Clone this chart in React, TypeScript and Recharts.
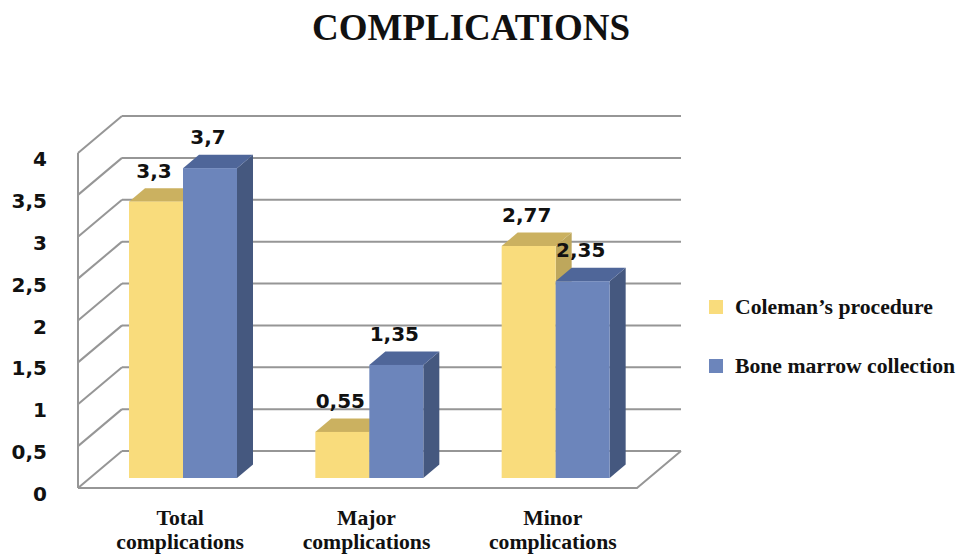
import React from 'react';
import { BarChart, Bar, XAxis, YAxis, CartesianGrid, LabelList } from 'recharts';

// chart data
const categories = ['Total complications', 'Major complications', 'Minor complications'];
const colemanValues = [3.3, 0.55, 2.77];
const boneMarrowValues = [3.7, 1.35, 2.35];
const yTicks = [0, 0.5, 1, 1.5, 2, 2.5, 3, 3.5, 4];
const seriesNames = ['Coleman’s procedure', 'Bone marrow collection'];

const data = categories.map((name, i) => ({
  name,
  coleman: colemanValues[i],
  bone: boneMarrowValues[i],
}));

const WIDTH = 962;
const HEIGHT = 555;
const PLOT_LEFT = 90;
const PLOT_RIGHT = 649;
const PLOT_TOP = 143;
const PLOT_BOTTOM = 478;
const X_AXIS_HEIGHT = 60;

// perspective offsets, measured from the plane the bars stand on
const BACK = { dx: 32, dy: -27 };
const FRONT = { dx: -12, dy: 10 };
const DEPTH = { dx: 16, dy: -13.5 };

const GRID = '#969696';
const SERIF = "'Liberation Serif', 'Times New Roman', serif";
const SANS = "'DejaVu Sans', sans-serif";

const FACES = {
  coleman: { front: '#f9dc7c', top: '#cbb160', side: '#bea75c' },
  bone: { front: '#6c85bb', top: '#4f6699', side: '#45587f' },
};

const fmt = (v: number) => String(v).replace('.', ',');

const makeBar = (faces: { front: string; top: string; side: string }) => (props: any) => {
  const { x, y, width, height } = props;
  if (width == null || height == null) return null;
  const { dx, dy } = DEPTH;
  const top = `${x},${y} ${x + dx},${y + dy} ${x + width + dx},${y + dy} ${x + width},${y}`;
  const side = `${x + width},${y} ${x + width + dx},${y + dy} ${x + width + dx},${y + height + dy} ${x + width},${y + height}`;
  return (
    <g>
      <polygon points={side} fill={faces.side} />
      <polygon points={top} fill={faces.top} />
      <rect x={x} y={y} width={width} height={height} fill={faces.front} />
    </g>
  );
};

const renderValue = (props: any) => {
  const { x, y, width, value } = props;
  return (
    <text
      x={x + width / 2 - 2}
      y={y - 24}
      textAnchor="middle"
      fontFamily={SANS}
      fontWeight="bold"
      fontSize={20}
      fill="#111"
    >
      {fmt(value)}
    </text>
  );
};

// each horizontal grid line becomes a back-wall line plus a left-wall diagonal
const renderGridLine = (props: any) => {
  const { x1, x2, y1 } = props;
  const top = props.y ?? PLOT_TOP;
  const bottom = top + (props.height ?? PLOT_BOTTOM - PLOT_TOP);
  const isBottom = Math.abs(y1 - bottom) < 1;
  const isTop = Math.abs(y1 - top) < 1;
  const line = { stroke: GRID, strokeWidth: 2, fill: 'none' };
  return (
    <g key={props.key}>
      <line x1={x1 + BACK.dx} y1={y1 + BACK.dy} x2={x2 + BACK.dx} y2={y1 + BACK.dy} {...line} />
      <line x1={x1 + FRONT.dx} y1={y1 + FRONT.dy} x2={x1 + BACK.dx} y2={y1 + BACK.dy} {...line} />
      {isTop && (
        <line x1={x1 + FRONT.dx} y1={top + FRONT.dy} x2={x1 + FRONT.dx} y2={bottom + FRONT.dy} {...line} />
      )}
      {isBottom && (
        <polyline
          points={`${x1 + FRONT.dx},${y1 + FRONT.dy} ${x2 + FRONT.dx},${y1 + FRONT.dy} ${x2 + BACK.dx},${y1 + BACK.dy}`}
          {...line}
        />
      )}
    </g>
  );
};

const YTick = (props: any) => {
  const { y, payload } = props;
  return (
    <text x={47} y={y + 23} textAnchor="end" fontFamily={SANS} fontWeight="bold" fontSize={20} fill="#111">
      {fmt(payload.value)}
    </text>
  );
};

const XTick = (props: any) => {
  const { x, payload } = props;
  const [first, ...rest] = String(payload.value).split(' ');
  return (
    <text textAnchor="middle" fontFamily={SERIF} fontWeight="bold" fontSize={21.7} fill="#111">
      <tspan x={x - 3} y={525}>{first}</tspan>
      <tspan x={x - 3} y={549}>{rest.join(' ')}</tspan>
    </text>
  );
};

const legendColors = [FACES.coleman.front, FACES.bone.front];

export default function App() {
  return (
    <div style={{ position: 'absolute', left: 0, top: 0, width: WIDTH, height: HEIGHT, background: '#fff' }}>
      <div
        style={{
          position: 'absolute',
          left: 0,
          top: 7.5,
          width: 942,
          textAlign: 'center',
          fontFamily: SERIF,
          fontWeight: 'bold',
          fontSize: 37,
          lineHeight: '40px',
          color: '#111',
        }}
      >
        COMPLICATIONS
      </div>
      <BarChart
        width={WIDTH}
        height={HEIGHT}
        data={data}
        margin={{
          top: PLOT_TOP,
          right: WIDTH - PLOT_RIGHT,
          bottom: HEIGHT - PLOT_BOTTOM - X_AXIS_HEIGHT,
          left: 0,
        }}
        barGap={0}
        barSize={54}
      >
        <CartesianGrid vertical={false} horizontal={renderGridLine} />
        <XAxis
          dataKey="name"
          height={X_AXIS_HEIGHT}
          axisLine={false}
          tickLine={false}
          tick={<XTick />}
          interval={0}
        />
        <YAxis
          width={PLOT_LEFT}
          domain={[0, 4]}
          ticks={yTicks}
          axisLine={false}
          tickLine={false}
          tick={<YTick />}
        />
        <Bar dataKey="coleman" name={seriesNames[0]} shape={makeBar(FACES.coleman)} isAnimationActive={false}>
          <LabelList dataKey="coleman" content={renderValue} />
        </Bar>
        <Bar dataKey="bone" name={seriesNames[1]} shape={makeBar(FACES.bone)} isAnimationActive={false}>
          <LabelList dataKey="bone" content={renderValue} />
        </Bar>
      </BarChart>
      <div
        style={{
          position: 'absolute',
          left: 709,
          top: 296,
          fontFamily: SERIF,
          fontWeight: 'bold',
          fontSize: 21.7,
          color: '#111',
        }}
      >
        {seriesNames.map((n, i) => (
          <div key={n} style={{ display: 'flex', alignItems: 'center', height: 22, marginBottom: i === 0 ? 37 : 0 }}>
            <span style={{ width: 14, height: 14, background: legendColors[i], marginRight: 12, display: 'inline-block' }} />
            <span>{n}</span>
          </div>
        ))}
      </div>
    </div>
  );
}
